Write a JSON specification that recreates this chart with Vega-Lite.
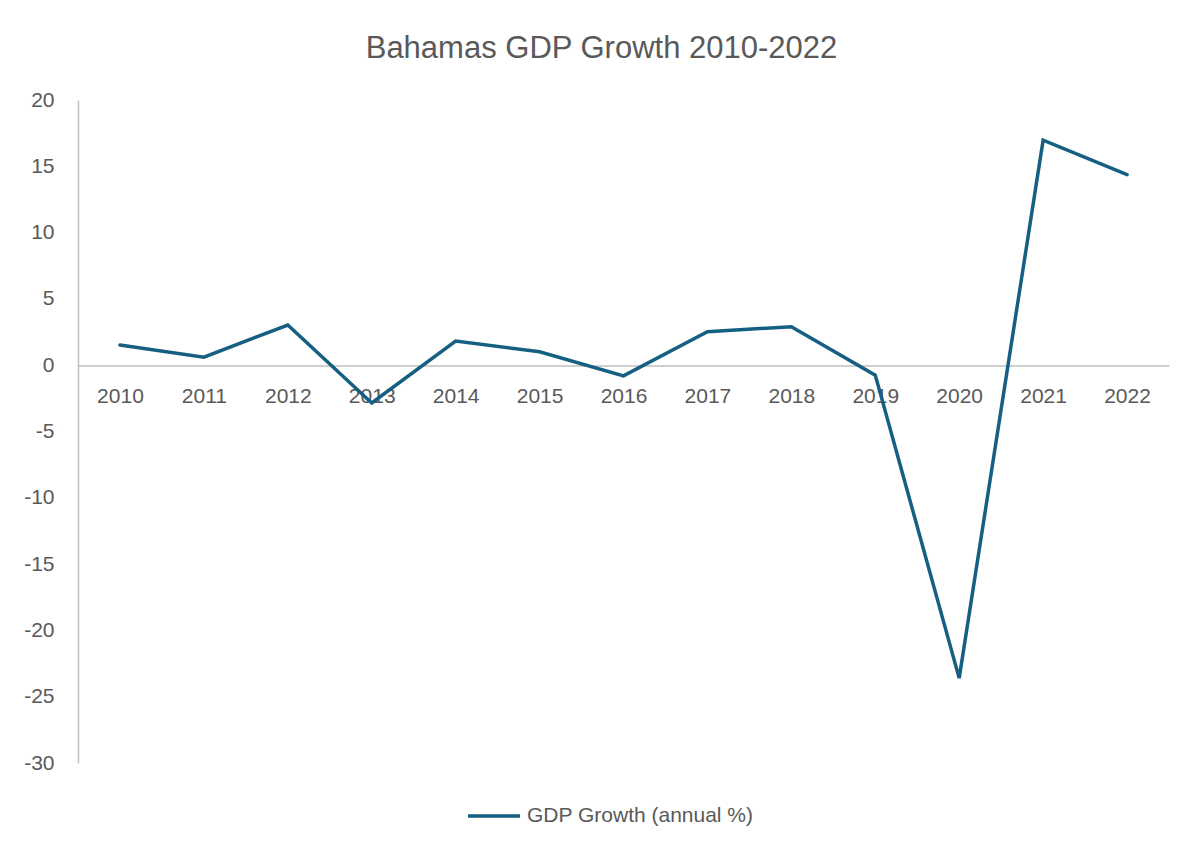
{
  "$schema": "https://vega.github.io/schema/vega-lite/v6.json",
  "autosize": {"type": "none"},
  "width": 1091,
  "height": 663,
  "padding": {"left": 78, "top": 100, "right": 20, "bottom": 87},
  "background": "white",
  "title": {
    "text": "Bahamas GDP Growth 2010-2022",
    "font": "Liberation Sans",
    "fontSize": 31,
    "fontWeight": "normal",
    "color": "#595959",
    "anchor": "middle",
    "dx": -22,
    "offset": 24
  },
  "data": {
    "values": [
      {"year": "2010", "growth": 1.52},
      {"year": "2011", "growth": 0.61},
      {"year": "2012", "growth": 3.03},
      {"year": "2013", "growth": -2.85},
      {"year": "2014", "growth": 1.82},
      {"year": "2015", "growth": 1.01},
      {"year": "2016", "growth": -0.8},
      {"year": "2017", "growth": 2.53},
      {"year": "2018", "growth": 2.9},
      {"year": "2019", "growth": -0.75},
      {"year": "2020", "growth": -23.6},
      {"year": "2021", "growth": 16.97},
      {"year": "2022", "growth": 14.37}
    ]
  },
  "mark": {"type": "line", "strokeWidth": 3.5, "strokeCap": "round", "strokeJoin": "miter"},
  "encoding": {
    "x": {
      "field": "year",
      "type": "ordinal",
      "scale": {"type": "point", "padding": 0.5},
      "axis": {
        "title": null,
        "offset": -397.5,
        "ticks": false,
        "labelAngle": 0,
        "labelPadding": 20,
        "labelFont": "Liberation Sans",
        "labelFontSize": 21,
        "labelColor": "#595959",
        "domainColor": "#bfbfbf",
        "domainWidth": 1.5,
        "grid": false,
        "zindex": 0
      }
    },
    "y": {
      "field": "growth",
      "type": "quantitative",
      "scale": {"domain": [-30, 20], "nice": false, "zero": false},
      "axis": {
        "title": null,
        "values": [-30, -25, -20, -15, -10, -5, 0, 5, 10, 15, 20],
        "labelExpr": "toString(datum.value)",
        "ticks": false,
        "labelPadding": 24,
        "labelFont": "Liberation Sans",
        "labelFontSize": 21,
        "labelColor": "#595959",
        "domainColor": "#bfbfbf",
        "domainWidth": 1.5,
        "grid": false
      }
    },
    "color": {
      "datum": "GDP Growth (annual %)",
      "type": "nominal",
      "scale": {"range": ["#156082"]},
      "legend": {
        "title": null,
        "orient": "none",
        "legendX": 388,
        "legendY": 688,
        "symbolType": "stroke",
        "symbolSize": 2704,
        "symbolStrokeWidth": 3.5,
        "symbolStrokeColor": "#156082",
        "labelFont": "Liberation Sans",
        "labelFontSize": 21,
        "labelColor": "#595959",
        "labelOffset": 5,
        "labelLimit": 0
      }
    }
  },
  "config": {"view": {"stroke": null}}
}
